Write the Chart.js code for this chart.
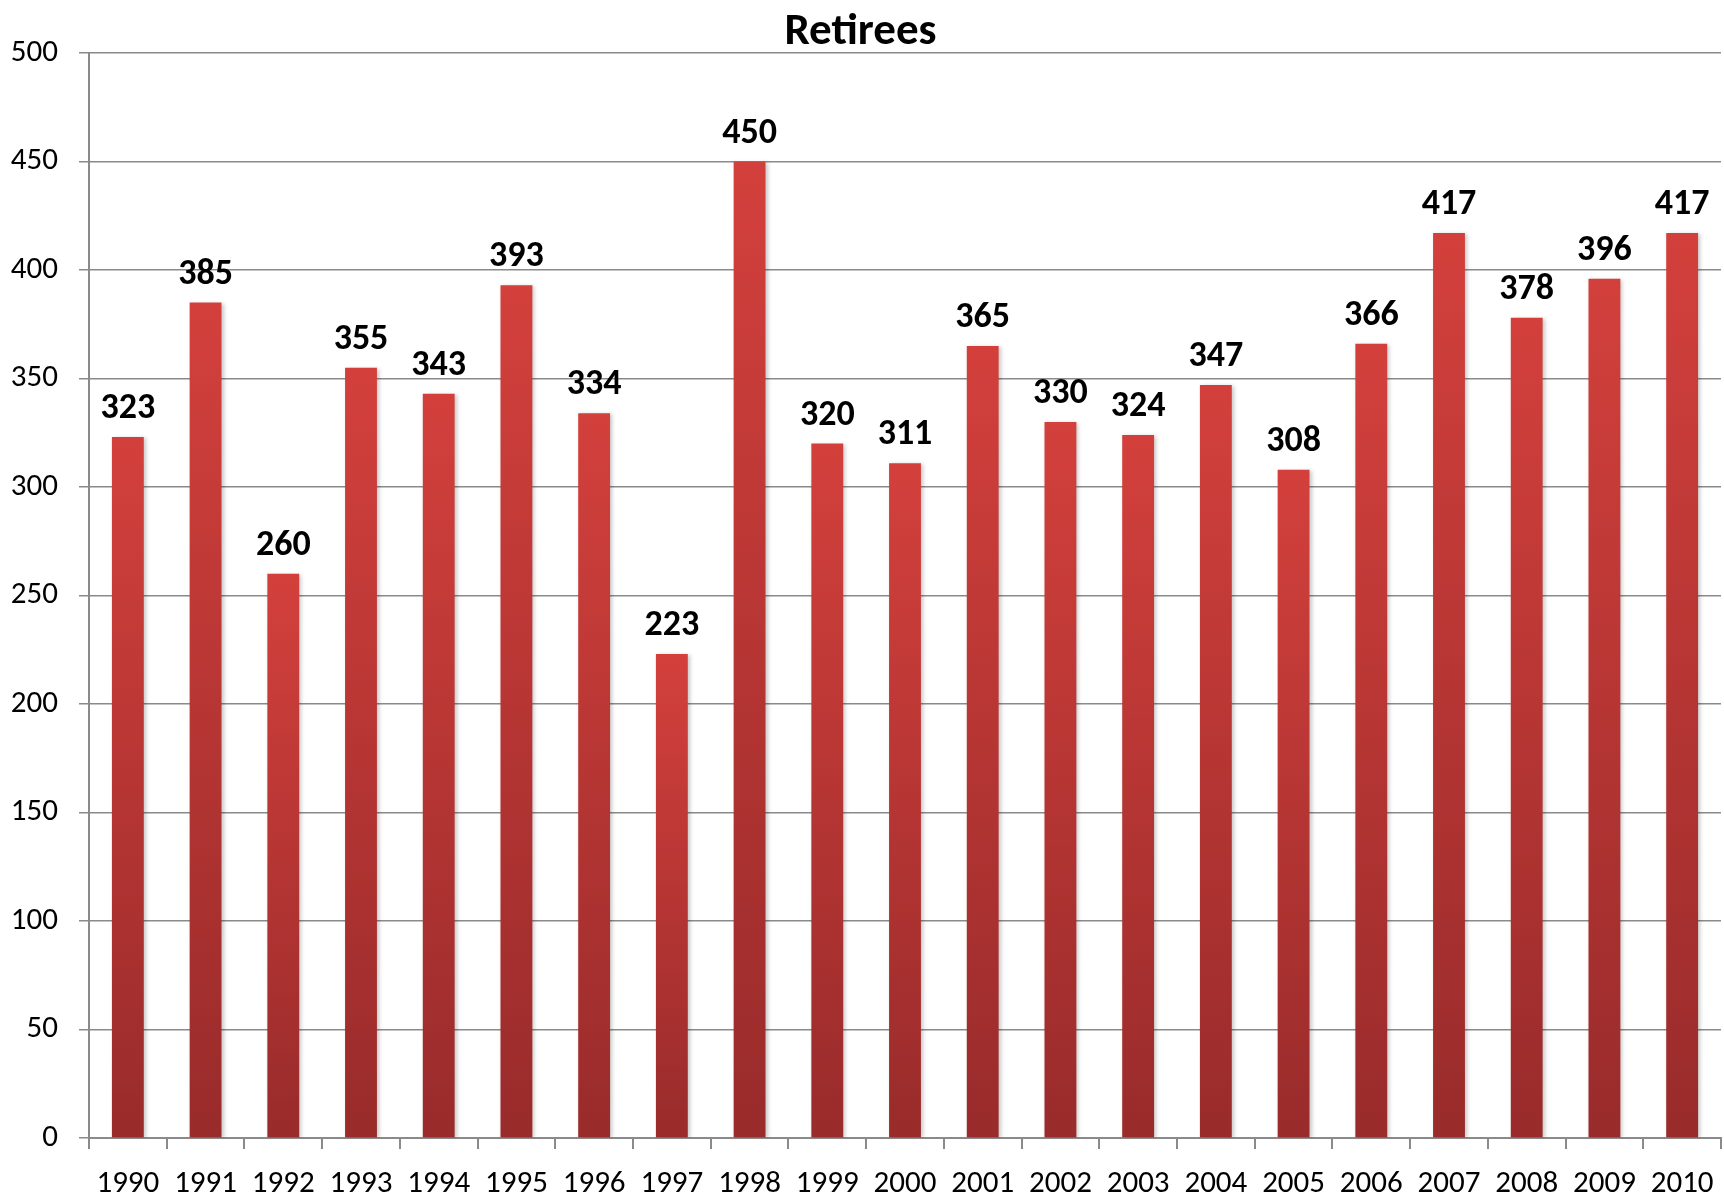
<!DOCTYPE html>
<html>
<head>
<meta charset="utf-8">
<title>Retirees</title>
<script src="https://cdn.jsdelivr.net/npm/chart.js@4/dist/chart.umd.min.js"></script>
<style>
    html, body { margin: 0; padding: 0; background: #fff; }
    #wrap { width: 1724px; height: 1195px; }
</style>
</head>
<body>
<div id="wrap"><canvas id="grafico" width="1724" height="1195"></canvas></div>
<script>
// dados
const anos = ['1990', '1991', '1992', '1993', '1994', '1995', '1996', '1997', '1998', '1999', '2000',
    '2001', '2002', '2003', '2004', '2005', '2006', '2007', '2008', '2009', '2010'];
const aposentados = [323, 385, 260, 355, 343, 393, 334, 223, 450, 320, 311,
    365, 330, 324, 347, 308, 366, 417, 378, 396, 417];
const tituloGrafico = 'Retirees';
const eixoYMax = 500;
const eixoYPasso = 50;

const fonte = 'Carlito, Calibri, "Open Sans", sans-serif';

// gradiente por barra (claro em cima, escuro embaixo)
function corBarra(context) {
    const chart = context.chart;
    if (!chart.chartArea || !chart.scales.y) return '#c33a36';
    const y = chart.scales.y;
    const topo = y.getPixelForValue(context.raw);
    const base = y.getPixelForValue(0);
    if (!isFinite(topo) || !isFinite(base) || topo === base) return '#c33a36';
    const g = chart.ctx.createLinearGradient(0, topo, 0, base);
    g.addColorStop(0, '#d3403c');
    g.addColorStop(1, '#992b2b');
    return g;
}

// rotulos de valor acima das barras
const rotulosPlugin = {
    id: 'rotulos',
    afterDatasetsDraw(chart) {
        const ctx = chart.ctx;
        const meta = chart.getDatasetMeta(0);
        ctx.save();
        ctx.font = 'bold 36px ' + fonte;
        ctx.fillStyle = '#000';
        ctx.textAlign = 'center';
        ctx.textBaseline = 'alphabetic';
        meta.data.forEach((bar, i) => {
            ctx.fillText(String(aposentados[i]), bar.x, bar.y - 19);
        });
        ctx.restore();
    }
};

// sombra leve nas barras
const sombraPlugin = {
    id: 'sombra',
    beforeDatasetDraw(chart) {
        const ctx = chart.ctx;
        ctx.save();
        ctx.shadowColor = 'rgba(0,0,0,0.22)';
        ctx.shadowBlur = 4;
        ctx.shadowOffsetX = 2;
        ctx.shadowOffsetY = 1;
    },
    afterDatasetDraw(chart) {
        chart.ctx.restore();
    }
};

const config = {
    type: 'bar',
    data: {
        labels: anos,
        datasets: [{
            label: tituloGrafico,
            data: aposentados,
            backgroundColor: corBarra,
            borderWidth: 0,
            barPercentage: 0.41,
            categoryPercentage: 1.0
        }]
    },
    options: {
        responsive: false,
        animation: false,
        devicePixelRatio: 1,
        layout: { padding: { left: 0, right: 3, top: 0, bottom: 0 } },
        plugins: {
            legend: { display: false },
            tooltip: { enabled: false },
            title: {
                display: true,
                text: tituloGrafico,
                color: '#000',
                font: { family: fonte, size: 45, weight: 'bold', lineHeight: 0.8 },
                padding: { top: 15, bottom: 2 }
            }
        },
        scales: {
            x: {
                afterFit(scale) {
                    scale.height = 57;
                    // evita que o padding dos rotulos encolha a area do grafico
                    scale.paddingLeft = 0;
                    scale.paddingRight = 3;
                },
                grid: {
                    display: true,
                    drawOnChartArea: false,
                    drawTicks: true,
                    tickLength: 11,
                    color: '#8a8a8a',
                    lineWidth: 2
                },
                border: { display: true, color: '#8a8a8a', width: 2 },
                ticks: {
                    color: '#000',
                    font: { family: fonte, size: 31 },
                    padding: 17,
                    maxRotation: 0,
                    autoSkip: false
                }
            },
            y: {
                min: 0,
                max: eixoYMax,
                afterFit(scale) { scale.width = 89; },
                grid: {
                    color: '#8a8a8a',
                    lineWidth: 1.5,
                    drawTicks: true,
                    tickLength: 10
                },
                border: { display: true, color: '#8a8a8a', width: 2 },
                ticks: {
                    stepSize: eixoYPasso,
                    color: '#000',
                    font: { family: fonte, size: 31 },
                    padding: 21
                }
            }
        }
    },
    plugins: [sombraPlugin, rotulosPlugin]
};

const ctx = document.getElementById('grafico').getContext('2d');
new Chart(ctx, config);
</script>
</body>
</html>
